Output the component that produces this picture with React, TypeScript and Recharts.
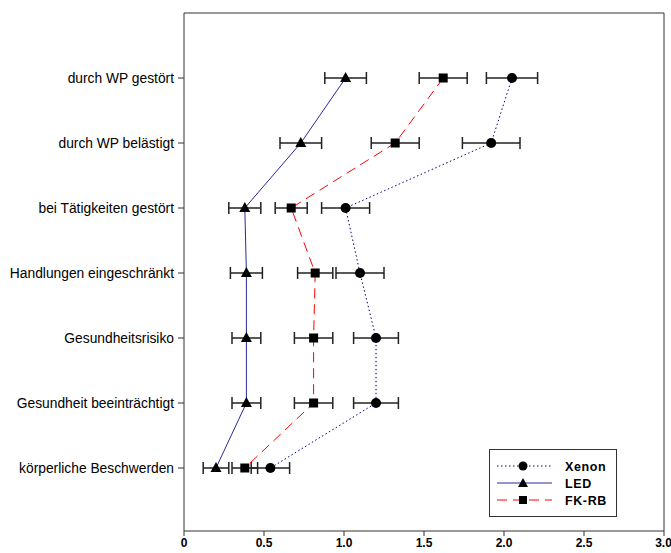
import React from 'react';
import { LineChart, Line, XAxis, YAxis, ErrorBar } from 'recharts';

const categories = [
  'durch WP gestört',
  'durch WP belästigt',
  'bei Tätigkeiten gestört',
  'Handlungen eingeschränkt',
  'Gesundheitsrisiko',
  'Gesundheit beeinträchtigt',
  'körperliche Beschwerden',
];
const xenon = [2.05, 1.92, 1.01, 1.1, 1.2, 1.2, 0.54];
const xenonErr = [0.16, 0.18, 0.15, 0.15, 0.14, 0.14, 0.12];
const led = [1.01, 0.73, 0.38, 0.39, 0.39, 0.39, 0.2];
const ledErr = [0.13, 0.13, 0.1, 0.1, 0.09, 0.09, 0.08];
const fkrb = [1.62, 1.32, 0.67, 0.82, 0.81, 0.81, 0.38];
const fkrbErr = [0.15, 0.15, 0.1, 0.11, 0.12, 0.12, 0.08];
const xTicks = [0, 0.5, 1, 1.5, 2, 2.5, 3];

const data = categories.map((name, i) => ({
  name,
  xenon: xenon[i],
  xenonErr: xenonErr[i],
  led: led[i],
  ledErr: ledErr[i],
  fkrb: fkrb[i],
  fkrbErr: fkrbErr[i],
}));

const FONT = '"Liberation Sans", Arial, sans-serif';
const Y_PAD = { top: 65, bottom: 63 };

const CircleDot = (p: any) => {
  const { cx, cy, index } = p;
  if (cx == null || cy == null) return <g key={`c${index}`} />;
  return <circle key={`c${index}`} cx={cx} cy={cy} r={5} fill="#000" stroke="none" />;
};
const TriDot = (p: any) => {
  const { cx, cy, index } = p;
  if (cx == null || cy == null) return <g key={`t${index}`} />;
  return (
    <polygon
      key={`t${index}`}
      points={`${cx},${cy - 6} ${cx - 5.5},${cy + 4} ${cx + 5.5},${cy + 4}`}
      fill="#000"
    />
  );
};
const SqDot = (p: any) => {
  const { cx, cy, index } = p;
  if (cx == null || cy == null) return <g key={`s${index}`} />;
  return <rect key={`s${index}`} x={cx - 4.5} y={cy - 4.5} width={9} height={9} fill="#000" />;
};

const legendItems = [
  { label: 'Xenon', color: '#000080', dash: '1.5 2.5', shape: 'circle' },
  { label: 'LED', color: '#2a2a9a', dash: undefined, shape: 'tri' },
  { label: 'FK-RB', color: '#ff0000', dash: '10 6', shape: 'sq' },
];

const LegendBox = () => (
  <div
    style={{
      position: 'absolute',
      left: 489,
      top: 449,
      width: 128,
      height: 68,
      boxSizing: 'border-box',
      border: '1px solid #333',
      background: '#fff',
      fontFamily: FONT,
    }}
  >
    <svg width={126} height={66} style={{ position: 'absolute', left: 0, top: 0 }}>
      {legendItems.map((it, i) => {
        const y = 16 + i * 17;
        const cx = 33;
        return (
          <g key={it.label}>
            <line x1={7} y1={y} x2={62} y2={y} stroke={it.color} strokeWidth={1} strokeDasharray={it.dash} />
            {it.shape === 'circle' && <circle cx={cx} cy={y} r={4.5} fill="#000" />}
            {it.shape === 'tri' && (
              <polygon points={`${cx},${y - 5} ${cx - 5},${y + 4} ${cx + 5},${y + 4}`} fill="#000" />
            )}
            {it.shape === 'sq' && <rect x={cx - 4} y={y - 4} width={8} height={8} fill="#000" />}
            <text
              x={75}
              y={y + 4.5}
              fontSize={12.5}
              fontWeight="bold"
              letterSpacing={0.6}
              fontFamily={FONT}
              fill="#000"
            >
              {it.label}
            </text>
          </g>
        );
      })}
    </svg>
  </div>
);

export default function App() {
  return (
    <div style={{ position: 'absolute', left: 0, top: 0, width: 671, height: 553, background: '#fff' }}>
      <LineChart
        width={671}
        height={553}
        data={data}
        layout="vertical"
        margin={{ top: 12, right: 6, bottom: 0, left: 0 }}
        style={{ fontFamily: FONT }}
      >
        <XAxis
          type="number"
          domain={[0, 3]}
          ticks={xTicks}
          allowDataOverflow
          height={22}
          tickSize={5}
          tickMargin={2}
          stroke="#333"
          tickFormatter={(v: number) => (v === 0 ? '0' : v.toFixed(1))}
          tick={{ fontSize: 12, fontWeight: 'bold', fill: '#000', fontFamily: FONT }}
        />
        <XAxis
          xAxisId="top"
          orientation="top"
          type="number"
          domain={[0, 3]}
          ticks={xTicks}
          allowDataOverflow
          height={1}
          tick={false}
          tickLine={false}
          axisLine={{ stroke: '#333' }}
        />
        <YAxis
          type="category"
          dataKey="name"
          width={184}
          padding={Y_PAD}
          tickSize={6}
          tickMargin={4}
          stroke="#333"
          interval={0}
          tick={{ fontSize: 13.8, fill: '#000', fontFamily: FONT }}
        />
        <YAxis
          yAxisId="right"
          orientation="right"
          type="category"
          dataKey="name"
          padding={Y_PAD}
          width={1}
          tick={false}
          tickLine={false}
          axisLine={{ stroke: '#333' }}
        />
        <Line
          dataKey="xenon"
          xAxisId="top"
          stroke="#000080"
          strokeWidth={1}
          strokeDasharray="1.5 2.5"
          dot={CircleDot}
          activeDot={false}
          isAnimationActive={false}
        >
          <ErrorBar dataKey="xenonErr" direction="x" width={6} stroke="#222" strokeWidth={1.5} />
        </Line>
        <Line
          dataKey="fkrb"
          yAxisId="right"
          stroke="#ff0000"
          strokeWidth={1}
          strokeDasharray="10 6"
          dot={SqDot}
          activeDot={false}
          isAnimationActive={false}
        >
          <ErrorBar dataKey="fkrbErr" direction="x" width={6} stroke="#222" strokeWidth={1.5} />
        </Line>
        <Line
          dataKey="led"
          stroke="#2a2a9a"
          strokeWidth={1}
          dot={TriDot}
          activeDot={false}
          isAnimationActive={false}
        >
          <ErrorBar dataKey="ledErr" direction="x" width={6} stroke="#222" strokeWidth={1.5} />
        </Line>
      </LineChart>
      <LegendBox />
    </div>
  );
}
